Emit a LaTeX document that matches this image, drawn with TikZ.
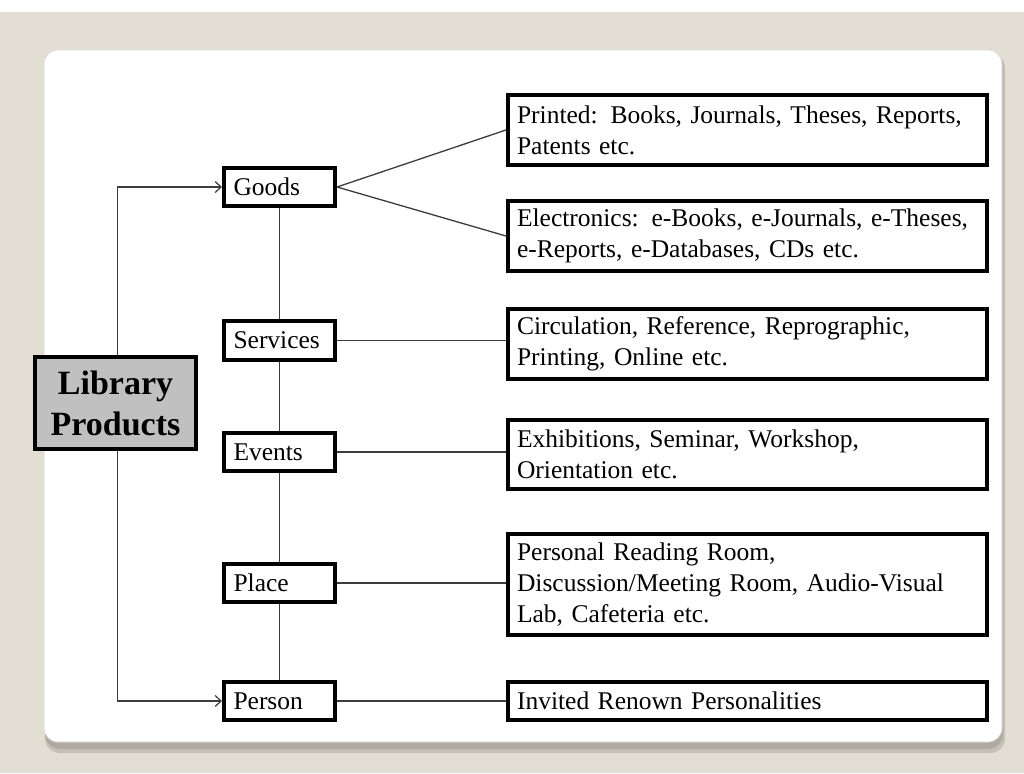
\documentclass[tikz,border=0pt]{standalone}
\usepackage{fontspec}
\setmainfont{Liberation Serif}
\usetikzlibrary{arrows.meta}
\definecolor{beige}{RGB}{227,222,211}
\definecolor{shadowc}{RGB}{175,171,163}
\definecolor{libgrey}{RGB}{192,192,192}
\definecolor{lnc}{RGB}{60,60,60}
\begin{document}
\begin{tikzpicture}[x=1pt,y=-1pt,
  box/.style={draw=black, line width=4pt, fill=white, inner sep=0pt, font=\fontsize{25.5}{31}\selectfont},
  small/.style={box, minimum width=111pt, minimum height=38.5pt, text width=92pt, align=left},
  big/.style={box, minimum width=479pt, text width=461pt, align=left},
  conn/.style={draw=lnc, line width=1.3pt},
  arr/.style={conn, -{Straight Barb[length=6pt,width=11pt,line width=1.2pt]}}]
\useasboundingbox (0,0) rectangle (1024,773);
% background
\fill[white] (0,0) rectangle (1024,773);
\fill[beige] (0,12) rectangle (1024,773);
\fill[shadowc!60!beige, rounded corners=15pt] (45,53) rectangle (1005,753);
\fill[shadowc, rounded corners=15pt] (45,52) rectangle (1003,749);
\fill[white, rounded corners=14pt, draw=black!15, line width=0.6pt] (44,50) rectangle (1002,742);
% nodes
\node[box, fill=libgrey, minimum width=161pt, minimum height=92pt, align=center,
  font=\fontsize{34}{41}\selectfont\bfseries] (lib) at (115.5,403) {Library\\Products};
\node[small] (goods) at (279.5,187) {Goods};
\node[small] (services) at (279.5,340.5) {Services};
\node[small] (events) at (279.5,452) {Events};
\node[small] (place) at (279.5,583) {Place};
\node[small] (person) at (279.5,701) {Person};
\node[big, minimum height=70pt] (printed) at (747.5,130) {Printed: Books, Journals, Theses, Reports,\\Patents etc.};
\node[big, minimum height=70pt] (elec) at (747.5,236) {Electronics: e-Books, e-Journals, e-Theses,\\e-Reports, e-Databases, CDs etc.};
\node[big, minimum height=70pt] (circ) at (747.5,344) {Circulation, Reference, Reprographic,\\Printing, Online etc.};
\node[big, minimum height=69pt] (exhib) at (747.5,454.5) {Exhibitions, Seminar, Workshop,\\Orientation etc.};
\node[big, minimum height=101pt] (room) at (747.5,584.5) {Personal Reading Room,\\Discussion/Meeting Room, Audio-Visual\\Lab, Cafeteria etc.};
\node[big, minimum height=38pt] (invited) at (747.5,701) {Invited Renown Personalities};
% connectors
\draw[arr] ([xshift=2pt]lib.north) |- (goods.west);
\draw[arr] ([xshift=2pt]lib.south) |- (person.west);
\draw[conn] (goods.south) -- (services.north);
\draw[conn] (services.south) -- (events.north);
\draw[conn] (events.south) -- (place.north);
\draw[conn] (place.south) -- (person.north);
\draw[conn] (goods.east) -- (printed.west);
\draw[conn] (goods.east) -- (elec.west);
\draw[conn] (services.east) -- (services.east -| circ.west);
\draw[conn] (events.east) -- (events.east -| exhib.west);
\draw[conn] (place.east) -- (place.east -| room.west);
\draw[conn] (person.east) -- (invited.west);
\end{tikzpicture}
\end{document}
